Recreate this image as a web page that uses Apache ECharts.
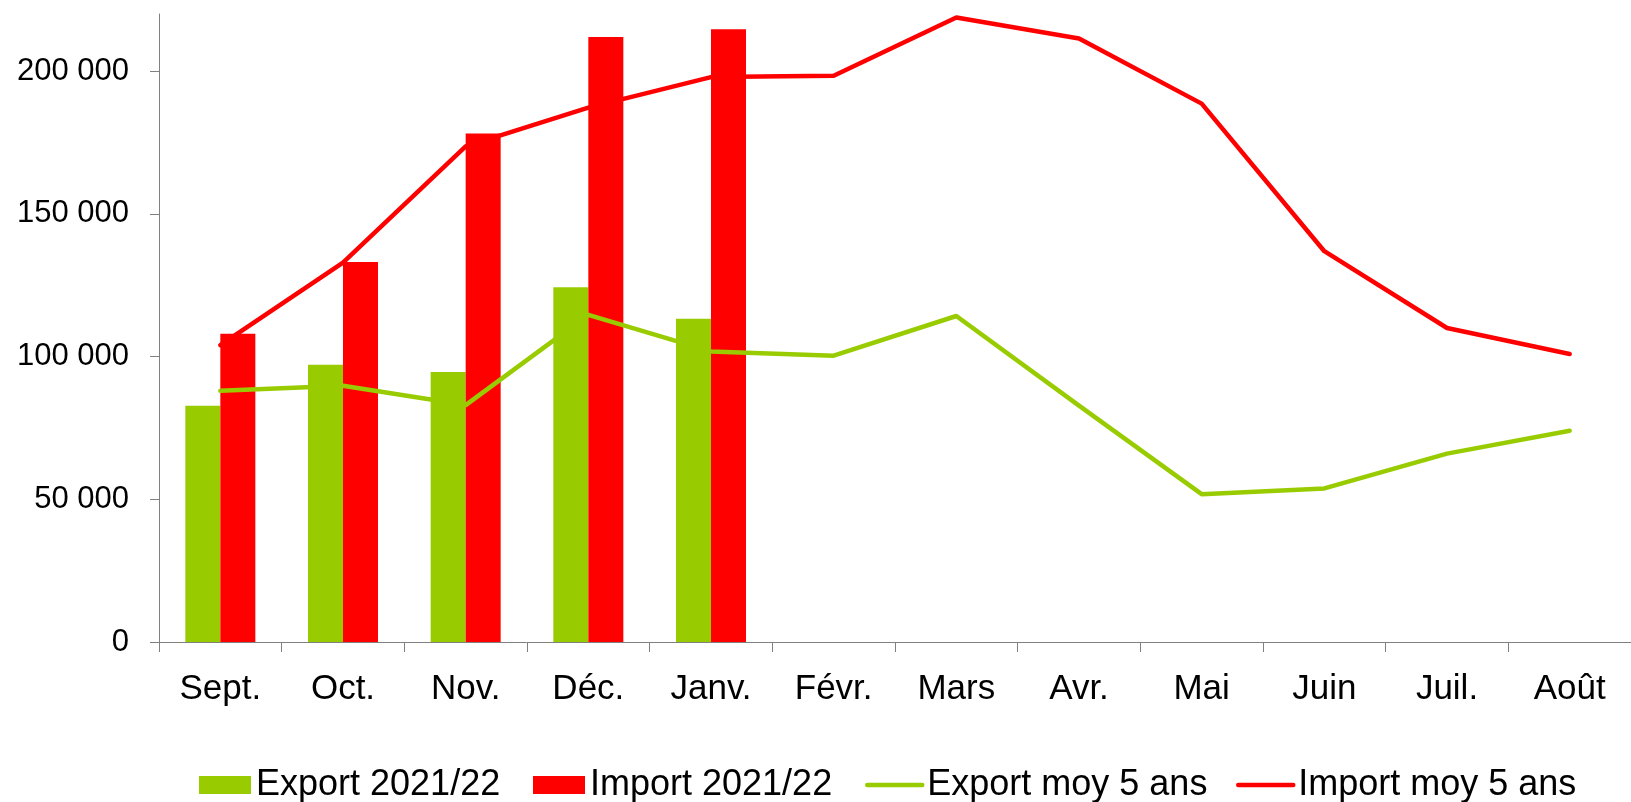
<!DOCTYPE html>
<html>
<head>
<meta charset="utf-8">
<script src="https://cdn.jsdelivr.net/npm/echarts@6/dist/echarts.min.js"></script>
<style>
html,body{margin:0;padding:0;background:#fff;}
#chart{width:1631px;height:802px;}
</style>
</head>
<body>
<div id="chart"></div>
<script>
const categories = ['Sept.','Oct.','Nov.','Déc.','Janv.','Févr.','Mars','Avr.','Mai','Juin','Juil.','Août'];
const export2122 = [82800, 97100, 94600, 124300, 113200];
const import2122 = [108000, 133100, 178100, 211900, 214700];
const exportMoy5 = [88000, 89800, 83000, 114600, 101800, 100300, 114200, 82800, 51800, 53800, 66000, 74000];
const importMoy5 = [104000, 132900, 173600, 187200, 197900, 198400, 218800, 211400, 188600, 136900, 110000, 100900];
const yTicks = [0, 50000, 100000, 150000, 200000];
const seriesNames = ['Export 2021/22', 'Import 2021/22', 'Export moy 5 ans', 'Import moy 5 ans'];

const GREEN = '#99CC00';
const RED = '#FF0000';
const FONT = 'Liberation Sans, Arial, sans-serif';
const fmt = v => String(v).replace(/\B(?=(\d{3})+(?!\d))/g, ' ');

const legendLefts = [199, 533, 865, 1236];
const legendTextStyle = {fontSize: 36, fontFamily: FONT, color: '#000'};
const legends = seriesNames.map((name, i) => {
  const isBar = i < 2;
  return {
    left: legendLefts[i], top: 767, padding: 0,
    itemWidth: isBar ? 52 : 55, itemHeight: 18,
    textStyle: legendTextStyle,
    selectedMode: false,
    data: [isBar ? {name: name, icon: 'rect'} :
      {name: name, itemStyle: {opacity: 0}, lineStyle: {width: 4.5, cap: 'round'}}]
  };
});

const chart = echarts.init(document.getElementById('chart'), null, {renderer: 'canvas'});
chart.setOption({
  animation: false,
  backgroundColor: '#fff',
  textStyle: {fontFamily: FONT, color: '#000'},
  grid: {left: 159, top: 14, width: 1481, bottom: 160, containLabel: false},
  legend: legends,
  xAxis: {
    type: 'category',
    data: categories,
    boundaryGap: true,
    axisLine: {lineStyle: {color: '#808080', width: 1}},
    axisTick: {show: true, length: 10, lineStyle: {color: '#808080'}},
    axisLabel: {fontSize: 35, color: '#000', fontFamily: FONT, margin: 30, interval: 0},
    splitLine: {show: false}
  },
  yAxis: {
    type: 'value',
    min: 0, max: 220000, interval: 50000,
    axisLine: {show: true, lineStyle: {color: '#808080', width: 1}},
    axisTick: {show: true, length: 9, lineStyle: {color: '#808080'}, customValues: yTicks},
    axisLabel: {fontSize: 31, color: '#000', fontFamily: FONT, margin: 30, formatter: fmt, customValues: yTicks},
    splitLine: {show: false}
  },
  series: [
    {name: seriesNames[0], type: 'bar', data: export2122, barWidth: 35, barGap: '0%',
     itemStyle: {color: GREEN}},
    {name: seriesNames[1], type: 'bar', data: import2122, barWidth: 35, barGap: '0%',
     itemStyle: {color: RED}},
    {name: seriesNames[2], type: 'line', data: exportMoy5, symbol: 'none', showSymbol: false,
     lineStyle: {color: GREEN, width: 4.5, cap: 'round', join: 'round'}, itemStyle: {color: GREEN}, z: 5},
    {name: seriesNames[3], type: 'line', data: importMoy5, symbol: 'none', showSymbol: false,
     lineStyle: {color: RED, width: 4.5, cap: 'round', join: 'round'}, itemStyle: {color: RED}, z: 5}
  ]
});
</script>
</body>
</html>
